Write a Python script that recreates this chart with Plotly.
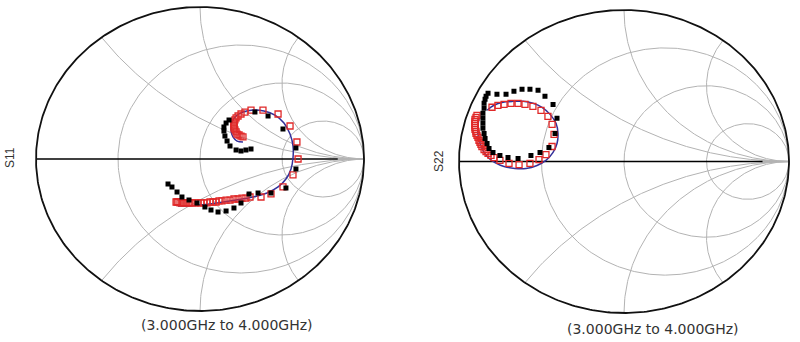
import numpy as np
import plotly.graph_objects as go

# ---------------- data (reflection coefficients, real / imag) ----------------
# S11 model (line)
s11_model_re = [0.262, 0.226, 0.201, 0.189, 0.195, 0.220, 0.262, 0.323, 0.390, 0.457, 0.512, 0.549,
                0.567, 0.567, 0.555, 0.524, 0.476, 0.409, 0.323, 0.220, 0.104, 0.000, -0.079, -0.134]
s11_model_im = [0.112, 0.118, 0.145, 0.191, 0.243, 0.283, 0.309, 0.322, 0.316, 0.289, 0.237, 0.164,
                0.086, 0.007, -0.066, -0.132, -0.184, -0.224, -0.250, -0.270, -0.289, -0.303, -0.309, -0.309]
# S11 simulated (red open squares)
s11_sim_re = [0.262, 0.250, 0.238, 0.226, 0.220, 0.213, 0.207, 0.207, 0.207, 0.207, 0.213, 0.220,
              0.232, 0.250, 0.274, 0.311, 0.384, 0.476, 0.549, 0.591, 0.598, 0.567, 0.506, 0.433,
              0.372, 0.305, 0.280, 0.256, 0.232, 0.207, 0.183, 0.159, 0.134, 0.116, 0.098, 0.079,
              0.061, 0.043, 0.024, 0.006, -0.012, -0.030, -0.049, -0.061, -0.073, -0.085, -0.098,
              -0.110, -0.122, -0.134, -0.140, -0.146]
s11_sim_im = [0.145, 0.151, 0.158, 0.164, 0.178, 0.191, 0.204, 0.217, 0.230, 0.243, 0.257, 0.270,
              0.283, 0.296, 0.309, 0.322, 0.322, 0.296, 0.217, 0.112, 0.000, -0.105, -0.184, -0.230,
              -0.250, -0.250, -0.257, -0.257, -0.263, -0.263, -0.270, -0.270, -0.276, -0.276, -0.283, -0.283,
              -0.283, -0.289, -0.289, -0.289, -0.289, -0.289, -0.289, -0.289, -0.289, -0.289, -0.289,
              -0.289, -0.289, -0.283, -0.283, -0.283]
# S11 measured (black squares)
s11_meas_re = [0.311, 0.280, 0.250, 0.220, 0.183, 0.165, 0.152, 0.146, 0.146, 0.159, 0.177, 0.335,
               0.415, 0.506, 0.585, 0.585, 0.524, 0.433, 0.354, 0.299, 0.250, 0.207, 0.159, 0.110,
               0.067, 0.030, -0.018, -0.067, -0.110, -0.140, -0.171, -0.195]
s11_meas_im = [0.066, 0.059, 0.053, 0.059, 0.086, 0.118, 0.151, 0.184, 0.211, 0.237, 0.257, 0.309,
               0.283, 0.197, 0.072, -0.066, -0.191, -0.224, -0.224, -0.230, -0.289, -0.322, -0.342, -0.349,
               -0.336, -0.316, -0.289, -0.270, -0.250, -0.217, -0.184, -0.164]

# S22 model (line)
s22_model_re = [-0.830, -0.788, -0.733, -0.673, -0.612, -0.552, -0.497, -0.448, -0.412, -0.400, -0.406, -0.430,
                -0.473, -0.527, -0.594, -0.661, -0.727, -0.782, -0.824, -0.855, -0.873, -0.885, -0.885, -0.879]
s22_model_im = [0.338, 0.371, 0.391, 0.397, 0.397, 0.384, 0.358, 0.311, 0.252, 0.185, 0.119, 0.060,
                0.007, -0.026, -0.046, -0.046, -0.033, -0.007, 0.026, 0.073, 0.126, 0.179, 0.232, 0.285]
# S22 simulated (red open squares)
s22_sim_re = [-0.800, -0.764, -0.727, -0.685, -0.642, -0.600, -0.552, -0.503, -0.461, -0.436, -0.424, -0.436,
              -0.473, -0.515, -0.570, -0.636, -0.697, -0.752, -0.788, -0.806, -0.824, -0.836, -0.848, -0.861,
              -0.867, -0.873, -0.879, -0.885, -0.891, -0.897, -0.897, -0.903, -0.903, -0.903, -0.903, -0.903,
              -0.903, -0.897, -0.891]
s22_sim_im = [0.358, 0.371, 0.377, 0.384, 0.384, 0.377, 0.364, 0.338, 0.298, 0.245, 0.179, 0.099,
              0.046, 0.013, -0.013, -0.020, -0.013, 0.007, 0.026, 0.040, 0.053, 0.066, 0.079, 0.099,
              0.113, 0.126, 0.139, 0.159, 0.172, 0.185, 0.199, 0.212, 0.225, 0.238, 0.252, 0.265,
              0.278, 0.291, 0.305]
# S22 measured (black squares)
s22_meas_re = [-0.824, -0.770, -0.715, -0.667, -0.618, -0.570, -0.521, -0.479, -0.430, -0.406, -0.418, -0.455,
               -0.509, -0.564, -0.642, -0.703, -0.752, -0.794, -0.818, -0.830, -0.842, -0.848, -0.855, -0.855,
               -0.855, -0.855, -0.848, -0.848, -0.842, -0.836]
s22_meas_im = [0.450, 0.444, 0.444, 0.464, 0.477, 0.477, 0.470, 0.430, 0.377, 0.285, 0.185, 0.093,
               0.060, 0.040, 0.020, 0.026, 0.040, 0.060, 0.086, 0.119, 0.152, 0.185, 0.219, 0.252,
               0.285, 0.318, 0.351, 0.384, 0.411, 0.430]

# Smith grid values
r_grid = [1/3, 1, 3]
x_grid = [0.5, 1, 2]

panel_labels = ["S11", "S22"]
sweep_label = "(3.000GHz to 4.000GHz)"

# ---------------- figure ----------------
W, H = 800, 342
R = 1.04
panels = [
    dict(cx=200, cy=159, rx=164, ry=152, xa="x", ya="y",
         data=(s11_model_re, s11_model_im, s11_sim_re, s11_sim_im, s11_meas_re, s11_meas_im),
         lab=(10, 158), sweep=(227, 325)),
    dict(cx=624, cy=161.5, rx=165, ry=151.5, xa="x2", ya="y2",
         data=(s22_model_re, s22_model_im, s22_sim_re, s22_sim_im, s22_meas_re, s22_meas_im),
         lab=(439, 161), sweep=(653, 329)),
]

fig = go.Figure()
GRID = "#b3b3b3"


def gamma(z):
    return (z - 1) / (z + 1)


t = np.concatenate([np.linspace(0, 5, 300), np.geomspace(5, 5000, 300)])
for p in panels:
    xa, ya = p["xa"], p["ya"]
    common = dict(xaxis=xa, yaxis=ya, mode="lines", hoverinfo="skip", showlegend=False)
    for r in r_grid:
        tt = np.concatenate([-t[::-1], t])
        g = gamma(r + 1j * tt)
        fig.add_trace(go.Scatter(x=g.real, y=g.imag, line=dict(color=GRID, width=1), **common))
    for xv in x_grid:
        for s in (1, -1):
            g = gamma(t + 1j * s * xv)
            fig.add_trace(go.Scatter(x=g.real, y=g.imag, line=dict(color=GRID, width=1), **common))
    fig.add_trace(go.Scatter(x=[0.84, 1], y=[0, 0], line=dict(color=GRID, width=2), **common))
    fig.add_trace(go.Scatter(x=[-1, 0.84], y=[0, 0], line=dict(color="black", width=1.5), **common))
    th = np.linspace(0, 2 * np.pi, 400)
    fig.add_trace(go.Scatter(x=np.cos(th), y=np.sin(th), line=dict(color="#111111", width=1.8), **common))

    mre, mim, sre, sim, ere, eim = p["data"]
    fig.add_trace(go.Scatter(x=mre, y=mim, xaxis=xa, yaxis=ya, mode="lines",
                             line=dict(color="#33309a", width=1.5, shape="spline"),
                             hoverinfo="skip", showlegend=False))
    fig.add_trace(go.Scatter(x=sre, y=sim, xaxis=xa, yaxis=ya, mode="markers",
                             marker=dict(symbol="square-open", size=6, color="#e02828",
                                         line=dict(width=1.3, color="#e02828")),
                             hoverinfo="skip", showlegend=False))
    fig.add_trace(go.Scatter(x=ere, y=eim, xaxis=xa, yaxis=ya, mode="markers",
                             marker=dict(symbol="square", size=5, color="black"),
                             hoverinfo="skip", showlegend=False))

layout_axes = {}
for i, p in enumerate(panels):
    xd = [(p["cx"] - p["rx"] * R) / W, (p["cx"] + p["rx"] * R) / W]
    yd = [1 - (p["cy"] + p["ry"] * R) / H, 1 - (p["cy"] - p["ry"] * R) / H]
    sx = "" if i == 0 else str(i + 1)
    layout_axes["xaxis" + sx] = dict(domain=xd, range=[-R, R], visible=False, anchor="y" + sx, fixedrange=True)
    layout_axes["yaxis" + sx] = dict(domain=yd, range=[-R, R], visible=False, anchor="x" + sx, fixedrange=True)

annotations = []
for p, lab in zip(panels, panel_labels):
    annotations.append(dict(x=p["lab"][0] / W, y=1 - p["lab"][1] / H, xref="paper", yref="paper",
                            text=lab, showarrow=False, textangle=-90,
                            font=dict(family="Liberation Sans, Arial", size=12, color="#333333"),
                            xanchor="center", yanchor="middle"))
    annotations.append(dict(x=p["sweep"][0] / W, y=1 - p["sweep"][1] / H, xref="paper", yref="paper",
                            text=sweep_label, showarrow=False,
                            font=dict(family="DejaVu Sans", size=14, color="#333333"),
                            xanchor="center", yanchor="middle"))

fig.update_layout(width=W, height=H, autosize=False, margin=dict(l=0, r=0, t=0, b=0),
                  paper_bgcolor="white", plot_bgcolor="white", annotations=annotations,
                  **layout_axes)

fig.write_html("out.html", config={"displayModeBar": False},
               post_script="document.body.style.margin='0';document.body.style.padding='0';"
                           "document.documentElement.style.overflow='hidden';")
